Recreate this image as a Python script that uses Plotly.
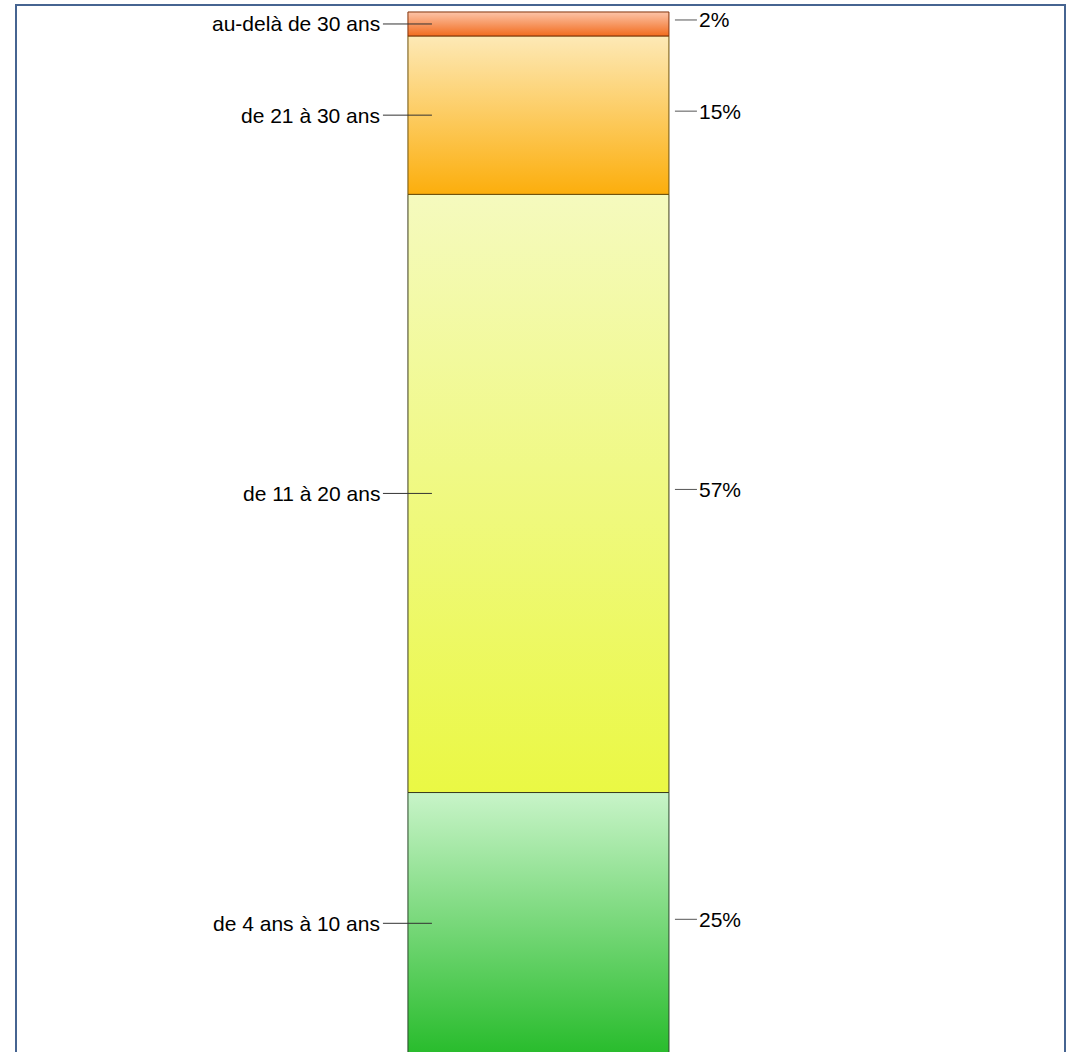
import plotly.graph_objects as go
import numpy as np

# ---- data ----
categories = ["de 4 ans à 10 ans", "de 11 à 20 ans", "de 21 à 30 ans", "au-delà de 30 ans"]
values = [25.1, 57.4, 15.2, 2.3]
top_colors = ["rgb(200,244,200)", "rgb(245,250,190)", "rgb(253,233,182)", "rgb(252,196,168)"]
bottom_colors = ["rgb(40,188,44)", "rgb(234,248,68)", "rgb(252,174,12)", "rgb(242,108,30)"]
line_colors = ["rgb(40,70,40)", "rgb(60,60,30)", "rgb(110,80,10)", "rgb(130,50,10)"]

# ---- style constants ----
HALF = 0.5           # bar half width in x units
PX = 261.0           # px per x unit
FONT = dict(family="Liberation Sans, Arial, sans-serif", size=21, color="#000000")

bases = np.concatenate([[0], np.cumsum(values)[:-1]])
mids = bases + np.array(values) / 2

fig = go.Figure()

for cat, v, b, ct, cb, lc in zip(categories, values, bases, top_colors, bottom_colors, line_colors):
    fig.add_trace(go.Scatter(
        x=[-HALF, HALF, HALF, -HALF, -HALF],
        y=[b, b, b + v, b + v, b],
        mode="lines",
        fill="toself",
        fillgradient=dict(type="vertical", colorscale=[[0, cb], [1, ct]]),
        line=dict(color=lc, width=1),
        name=cat,
        hoverinfo="skip",
        showlegend=False,
    ))

# leader lines
left_x0 = -HALF - 25 / PX
left_x1 = -HALF + 24 / PX
right_x0 = HALF + 6 / PX
right_x1 = HALF + 28 / PX
yoff = 4 / 10.42

for m in mids:
    fig.add_trace(go.Scatter(x=[left_x0, left_x1], y=[m, m], mode="lines",
                             line=dict(color="#333333", width=1), hoverinfo="skip", showlegend=False))
    fig.add_trace(go.Scatter(x=[right_x0, right_x1], y=[m + yoff, m + yoff], mode="lines",
                             line=dict(color="#555555", width=1), hoverinfo="skip", showlegend=False))

annotations = []
for cat, v, m in zip(categories, values, mids):
    annotations.append(dict(x=left_x0, y=m, xref="x", yref="y", text=cat, showarrow=False,
                            xanchor="right", yanchor="middle", font=FONT, xshift=-1))
    annotations.append(dict(x=right_x1, y=m + yoff, xref="x", yref="y", text=f"{v:.0f}%", showarrow=False,
                            xanchor="left", yanchor="middle", font=FONT, xshift=0))

fig.update_layout(
    width=1068, height=1052,
    margin=dict(l=0, r=0, t=0, b=0),
    paper_bgcolor="white", plot_bgcolor="white",
    xaxis=dict(range=[-2.063, 2.029], visible=False, fixedrange=True),
    yaxis=dict(range=[0.2, 101.15], visible=False, fixedrange=True),
    annotations=annotations,
    shapes=[dict(type="rect", xref="paper", yref="paper",
                 x0=16 / 1068, x1=1065 / 1068, y0=-0.05, y1=1 - 5 / 1052,
                 line=dict(color="rgb(70,100,145)", width=2), layer="above")],
    showlegend=False,
)

fig.write_html("out.html", config={"displayModeBar": False},
               post_script="document.body.style.margin='0px';document.body.style.overflow='hidden';")
